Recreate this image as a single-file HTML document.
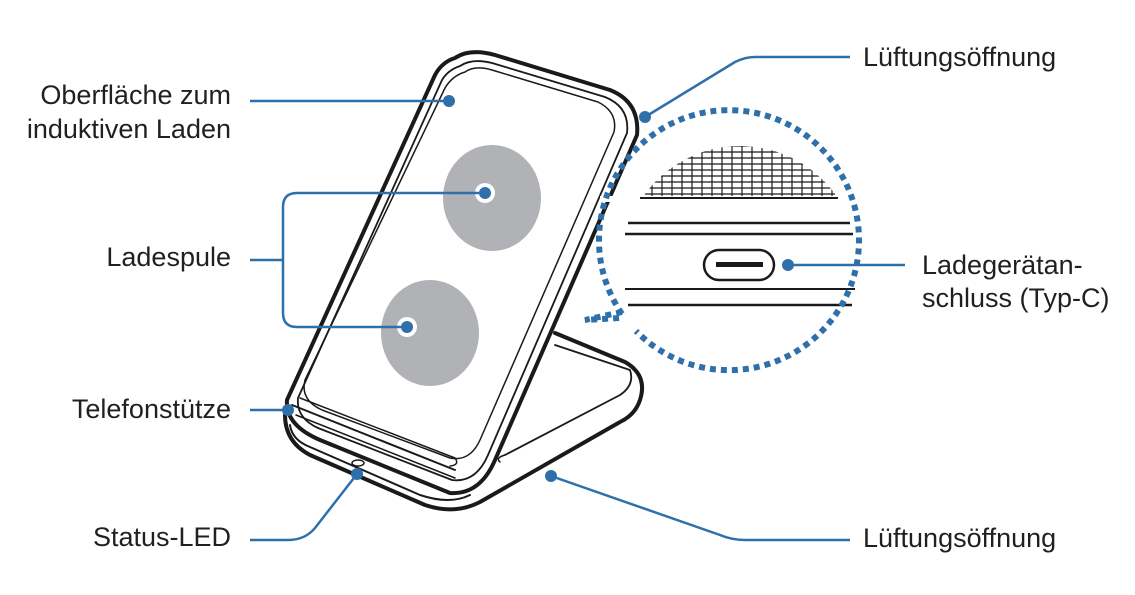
<!DOCTYPE html>
<html><head><meta charset="utf-8"><style>
html,body{margin:0;padding:0;background:#fff;}
svg{display:block;}
text{font-family:"Liberation Sans",sans-serif;font-size:27px;fill:#231f20;}
</style></head><body>
<svg width="1135" height="595" viewBox="0 0 1135 595" xmlns="http://www.w3.org/2000/svg">
<defs>
<clipPath id="gc"><circle cx="740" cy="264" r="118"/></clipPath>
</defs>
<!-- base -->
<g fill="none" stroke="#1a1a1a" stroke-linejoin="round" stroke-linecap="round">
<path d="M555,333 L625,362 Q648,375 640,400 Q635,415 620,422 L480,502 Q455,515 425,505 L310,455 Q285,442 285,415" stroke-width="4" fill="#fff"/>
<path d="M290,425 Q292,440 310,447 L420,495 Q450,505 470,495" stroke-width="2"/>
<path d="M505,455 L620,395 Q635,385 630,370 L555,345" stroke-width="1.8"/>
<path d="M500,462 Q495,458 505,455" stroke-width="1.5"/>
<!-- back frame -->
<path d="M455,58 Q470,48 495,55 L610,90 Q640,102 637,135 L495,460 Q480,495 450,493 L320,440 Q285,425 287,400 L435,75 Q442,62 455,58 Z" stroke-width="4" fill="#fff"/>
<path d="M460,66 Q472,58 492,63 L605,97 Q630,107 627,133 L488,455 Q476,483 452,480 L318,428 Q296,418 298,398 L442,80 Q448,70 460,66 Z" stroke-width="1.8"/>
<path d="M465,72 Q475,65 492,70 L598,102 Q618,112 614,132 L480,440 Q470,462 450,458 L322,410 Q300,400 305,380 L445,88 Q452,76 465,72 Z" stroke-width="1.5"/>
<!-- ledge -->
<path d="M292,405 L455,470" stroke-width="2"/>
<path d="M296,415 L455,478" stroke-width="1.5"/>
<path d="M300,398 L455,458 Q460,465 450,466" stroke-width="1.5"/>
<ellipse cx="358" cy="463" rx="6" ry="3" stroke-width="1.5"/>
</g>
<!-- coils -->
<ellipse cx="492" cy="198" rx="49" ry="53" fill="#b1b2b5"/>
<ellipse cx="430" cy="333" rx="49" ry="53" fill="#b1b2b5"/>
<circle cx="485" cy="193" r="10" fill="#fff"/>
<circle cx="407" cy="327" r="10" fill="#fff"/>
<!-- magnifier circle -->
<circle cx="740" cy="264" r="130" fill="#fff"/>
<g clip-path="url(#gc)" stroke="#1a1a1a" stroke-width="1.2">
<line x1="600" y1="146" x2="880" y2="146"/><line x1="600" y1="152" x2="880" y2="152"/><line x1="600" y1="158" x2="880" y2="158"/><line x1="600" y1="164" x2="880" y2="164"/><line x1="600" y1="170" x2="880" y2="170"/><line x1="600" y1="176" x2="880" y2="176"/><line x1="600" y1="182" x2="880" y2="182"/><line x1="600" y1="188" x2="880" y2="188"/><line x1="600" y1="194" x2="880" y2="194"/>
</g>
<g clip-path="url(#gc)">
<rect x="600" y="200" width="300" height="200" fill="#fff"/>
<rect x="600" y="100" width="300" height="44" fill="#fff"/>
<g stroke="#1a1a1a" stroke-width="1.2">
<path d="M642,144 V200 M652,144 V200 M662,144 V200 M672,144 V200 M682,144 V200 M692,144 V200 M702,144 V200 M712,144 V200 M722,144 V200 M732,144 V200 M742,144 V200 M752,144 V200 M762,144 V200 M772,144 V200 M782,144 V200 M792,144 V200 M802,144 V200 M812,144 V200 M822,144 V200 M832,144 V200"/>
</g>
</g>
<rect x="600" y="196" width="280" height="6" fill="#fff"/>
<line x1="640" y1="198" x2="838" y2="198" stroke="#1a1a1a" stroke-width="2"/>
<line x1="628" y1="223" x2="850" y2="223" stroke="#1a1a1a" stroke-width="2.5"/>
<line x1="625" y1="234" x2="853" y2="234" stroke="#1a1a1a" stroke-width="2.5"/>
<rect x="704" y="250" width="70" height="30" rx="15" fill="#fff" stroke="#1a1a1a" stroke-width="2.5"/>
<rect x="716" y="262" width="47" height="5" fill="#1a1a1a"/>
<line x1="625" y1="289" x2="855" y2="289" stroke="#1a1a1a" stroke-width="2"/>
<line x1="628" y1="305" x2="852" y2="305" stroke="#1a1a1a" stroke-width="2.5"/>
<path d="M622,314 A130,130 0 1 1 636,331" fill="none" stroke="#2f70aa" stroke-width="6" stroke-dasharray="6,5"/>
<path d="M622,312 L585,320 L620,318" fill="none" stroke="#2f70aa" stroke-width="6" stroke-dasharray="6,5"/>
<!-- leaders -->
<g fill="none" stroke="#2f70aa" stroke-width="2.5">
<path d="M250,101 H449"/>
<path d="M250,260 H283 M485,193 H297 Q283,193 283,207 V313 Q283,327 297,327 H407"/>
<path d="M250,410 H288"/>
<path d="M250,540 H288 Q305,540 315,528 L357,474"/>
<path d="M645,117 L735,62 Q745,57 755,57 H850"/>
<path d="M788,265 H905"/>
<path d="M551,476 L720,535 Q732,540 745,540 H850"/>
</g>
<g fill="#2f70aa">
<circle cx="449" cy="101" r="6"/><circle cx="485" cy="193" r="6"/><circle cx="407" cy="327" r="6"/>
<circle cx="288" cy="410" r="6"/><circle cx="357" cy="474" r="6"/><circle cx="645" cy="117" r="6"/>
<circle cx="788" cy="265" r="6"/><circle cx="551" cy="476" r="6"/>
</g>
<!-- labels -->
<g text-anchor="end">
<text x="231" y="104">Oberfläche zum</text>
<text x="231" y="138">induktiven Laden</text>
<text x="231" y="266">Ladespule</text>
<text x="231" y="418">Telefonstütze</text>
<text x="231" y="546">Status-LED</text>
</g>
<text x="863" y="66">Lüftungsöffnung</text>
<text x="922" y="274">Ladegerätan-</text>
<text x="922" y="307">schluss (Typ-C)</text>
<text x="863" y="547">Lüftungsöffnung</text>
</svg>
</body></html>
